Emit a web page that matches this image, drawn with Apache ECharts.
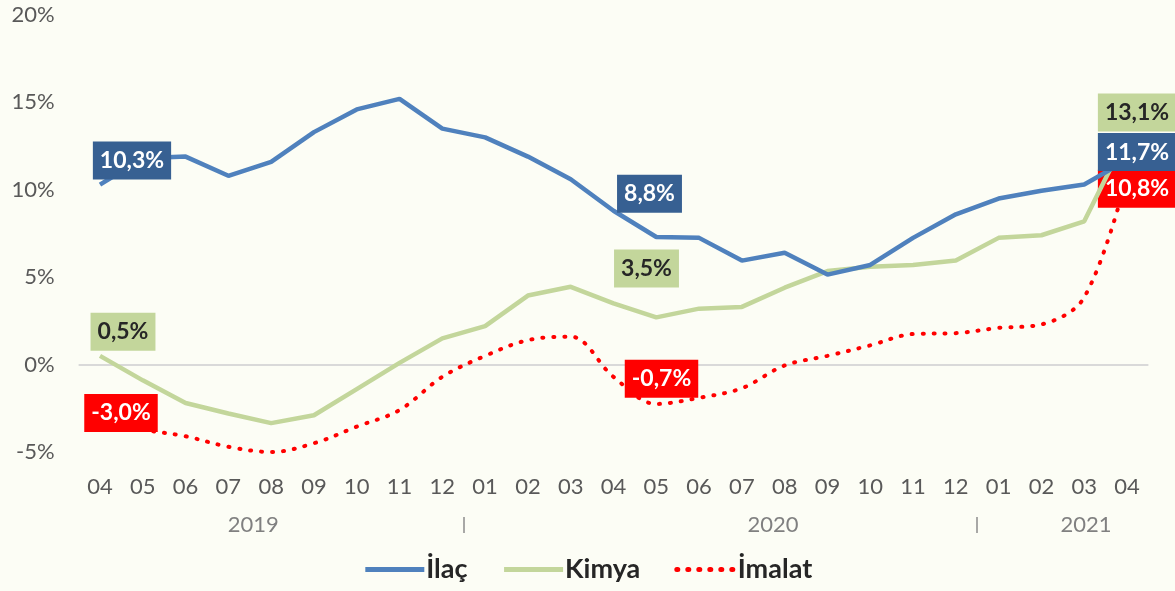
<!DOCTYPE html>
<html>
<head>
<meta charset="utf-8">
<script src="https://cdn.jsdelivr.net/npm/echarts@6/dist/echarts.min.js"></script>
<style>
  html, body { margin: 0; padding: 0; background: #FCFDF5; }
  #chart { width: 1175px; height: 591px; }
</style>
</head>
<body>
<div id="chart"></div>
<script>
// ---- data ----
const months = ['04','05','06','07','08','09','10','11','12',
                '01','02','03','04','05','06','07','08','09','10','11','12',
                '01','02','03','04'];
const years = ['2019', '2020', '2021'];
const seriesNames = ['İlaç', 'Kimya', 'İmalat'];
const ilac   = [10.3, 11.8, 11.9, 10.8, 11.6, 13.3, 14.6, 15.2, 13.5, 13.0, 11.9, 10.6,
                8.8, 7.3, 7.25, 5.95, 6.4, 5.15, 5.7, 7.25, 8.6, 9.5, 9.95, 10.3, 11.7];
const kimya  = [0.5, -0.9, -2.2, -2.8, -3.35, -2.9, -1.4, 0.1, 1.5, 2.2, 3.95, 4.45,
                3.5, 2.7, 3.2, 3.3, 4.4, 5.35, 5.6, 5.7, 5.95, 7.25, 7.4, 8.2, 13.1];
const imalat = [-3.0, -3.7, -4.1, -4.7, -5.0, -4.5, -3.55, -2.6, -0.7, 0.5, 1.4, 1.6,
                -0.7, -2.25, -1.9, -1.35, -0.05, 0.5, 1.1, 1.75, 1.8, 2.1, 2.3, 3.85, 10.8];
const labelled = [0, 12, 24];

// ---- layout / style (not data) ----
const yearLabelAt = [3.58, 15.73, 23.04];
const yearSeparatorsAt = [8.5, 20.5];
const FONT = 'Lato';
const labelOffsets = {
  'İlaç':   { 0: [32, -24], 12: [36, -17], 24: [10, -8] },
  'Kimya':  { 0: [23, -24], 12: [33, -35], 24: [10, -23] },
  'İmalat': { 0: [21, -4],  12: [48, 2],   24: [10, 13] }
};
const labelStyles = {
  'İlaç':   { backgroundColor: '#376092', color: '#FFFFFF' },
  'Kimya':  { backgroundColor: '#C3D69B', color: '#262626' },
  'İmalat': { backgroundColor: '#FF0000', color: '#FFFFFF' }
};
function fmt(v) { return v.toFixed(1).replace('.', ',') + '%'; }
function buildData(name, values) {
  return values.map((v, i) => {
    if (labelled.indexOf(i) < 0) return v;
    return {
      value: v,
      label: Object.assign({
        show: true, position: 'inside', offset: labelOffsets[name][i],
        formatter: fmt(v), fontFamily: FONT, fontWeight: 'bold', fontSize: 23,
        lineHeight: 24, padding: [7, 7, 7, 7]
      }, labelStyles[name])
    };
  });
}

const chart = echarts.init(document.getElementById('chart'), null, { renderer: 'canvas' });
const option = {
  backgroundColor: '#FCFDF5',
  animation: false,
  grid: { left: 78.6, right: 26.6, top: 15, bottom: 139, containLabel: false },
  legend: {
    data: seriesNames,
    bottom: 3,
    left: 'center',
    itemWidth: 59,
    itemHeight: 14,
    itemGap: 34,
    textStyle: { fontFamily: FONT, fontWeight: 'bold', fontSize: 27, color: '#262626', padding: [0, 0, 0, -3] },
    itemStyle: { opacity: 0 },
    lineStyle: { width: 5 }
  },
  xAxis: [
    {
      type: 'category', data: months, boundaryGap: true,
      axisLine: { show: false }, axisTick: { show: false }, splitLine: { show: false },
      axisLabel: { interval: 0, fontFamily: FONT, fontSize: 22, color: '#595959', margin: 24 }
    },
    {
      type: 'value', min: -0.5, max: 24.5, position: 'bottom', offset: 65,
      axisLine: { show: false }, splitLine: { show: false },
      axisTick: { show: true, customValues: yearSeparatorsAt, length: 16, lineStyle: { color: '#8C8C8C', width: 1.5 } },
      axisLabel: {
        customValues: yearLabelAt, margin: -3,
        fontFamily: FONT, fontSize: 22, color: '#808080',
        formatter: function (v) {
          const k = yearLabelAt.findIndex(p => Math.abs(p - v) < 1e-6);
          return k >= 0 ? years[k] : '';
        }
      }
    }
  ],
  yAxis: {
    type: 'value', min: -5, max: 20, interval: 5,
    axisLine: { show: false }, axisTick: { show: false }, splitLine: { show: false },
    axisLabel: { formatter: '{value}%', fontFamily: FONT, fontSize: 22, color: '#595959', margin: 24 }
  },
  series: [
    {
      name: '__zero', type: 'line', data: [], silent: true, z: 0,
      markLine: {
        silent: true, symbol: 'none', label: { show: false }, z: 0,
        lineStyle: { color: '#D9D9D9', width: 2, type: 'solid' },
        data: [{ yAxis: 0 }]
      }
    },
    {
      name: 'İmalat', type: 'line', smooth: 0.35, z: 2,
      showSymbol: true, symbol: 'circle', symbolSize: 0,
      lineStyle: { color: '#FF0000', width: 4, type: [1, 10], cap: 'round' },
      itemStyle: { color: '#FF0000' },
      data: buildData('İmalat', imalat)
    },
    {
      name: 'Kimya', type: 'line', z: 3,
      showSymbol: true, symbol: 'circle', symbolSize: 0,
      lineStyle: { color: '#C3D69B', width: 4.5 },
      itemStyle: { color: '#C3D69B' },
      data: buildData('Kimya', kimya)
    },
    {
      name: 'İlaç', type: 'line', z: 4,
      showSymbol: true, symbol: 'circle', symbolSize: 0,
      lineStyle: { color: '#4F81BD', width: 4.5 },
      itemStyle: { color: '#4F81BD' },
      data: buildData('İlaç', ilac)
    }
  ]
};
chart.setOption(option);
</script>
</body>
</html>
